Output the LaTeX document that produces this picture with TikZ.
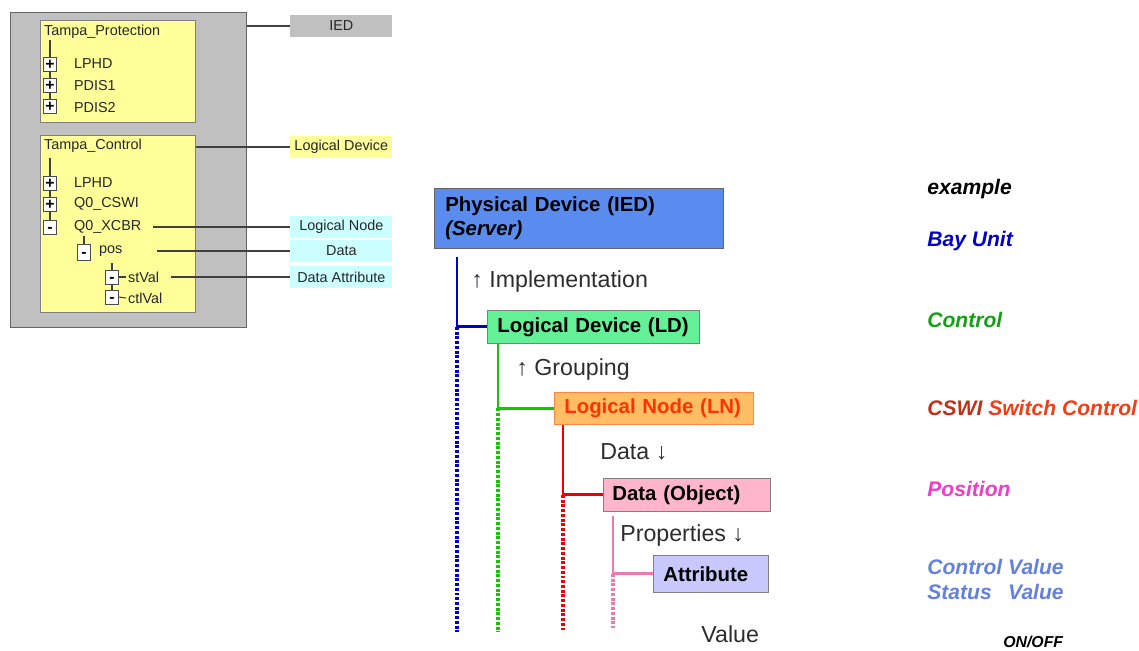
\documentclass[tikz,border=0pt]{standalone}
\usepackage{fontspec}
\setmainfont{Liberation Sans}
\usetikzlibrary{positioning, calc}
\definecolor{iedGray}{RGB}{192, 192, 192}
\definecolor{ldYellow}{RGB}{255, 255, 153}
\definecolor{lnCyan}{RGB}{204, 255, 255}
\definecolor{pdBlue}{RGB}{90, 140, 240}
\definecolor{ldGreen}{RGB}{100, 240, 150}
\definecolor{lnOrange}{RGB}{255, 190, 100}
\definecolor{lnRed}{RGB}{255, 50, 0}
\definecolor{doPink}{RGB}{255, 182, 204}
\definecolor{daLilac}{RGB}{200, 200, 252}
\definecolor{treeBlue}{RGB}{0, 0, 200}
\definecolor{treeGreen}{RGB}{20, 200, 0}
\definecolor{treeRed}{RGB}{240, 0, 0}
\definecolor{treePink}{RGB}{240, 120, 170}
\definecolor{bayBlue}{RGB}{0, 0, 200}
\definecolor{ctlGreen}{RGB}{20, 160, 20}
\definecolor{cswiRed}{RGB}{190, 50, 25}
\definecolor{swRed}{RGB}{245, 60, 20}
\definecolor{posPink}{RGB}{240, 60, 200}
\definecolor{valBlue}{RGB}{100, 130, 220}
\definecolor{noteGray}{RGB}{45, 45, 45}

\begin{document}
\begin{tikzpicture}[x=0.02cm, y=-0.02cm,
    iedbox/.style={rectangle, draw=black!60, fill=iedGray, anchor=north west, inner sep=0},
    ldbox/.style={rectangle, draw=black!50, fill=ldYellow, anchor=north west, inner sep=0},
    lt/.style={anchor=west, inner sep=1pt, font=\fontsize{8.2}{9}\selectfont, text=black!85},
    xbox/.style={rectangle, draw=black!70, fill=white, inner sep=0, minimum width=0.25cm, minimum height=0.28cm, text height=6pt, text depth=0pt, font=\fontsize{9}{9}\selectfont\bfseries},
    lbl/.style={rectangle, anchor=west, inner sep=0, minimum width=2.04cm, minimum height=0.44cm, font=\fontsize{8.2}{9}\selectfont, text=black!85},
    thin line/.style={draw=black!75, line width=0.6pt},
    level/.style={rectangle, anchor=north west, align=left, font=\fontsize{11.6}{14}\selectfont\bfseries},
    note/.style={anchor=west, inner sep=0, font=\fontsize{13.2}{15}\selectfont, text=noteGray},
    ex/.style={anchor=west, inner sep=0, font=\fontsize{12}{14}\selectfont\bfseries\itshape},
    tree/.style={line width=1.6pt},
    dots/.style={line width=1.8pt, dash pattern=on 1.7pt off 1pt}
  ]
    \useasboundingbox (0,0) rectangle (1139,650);

    % object tree
    \node[iedbox, minimum width=4.72cm, minimum height=6.3cm] (ied) at (10,12) {};
    \node[ldbox, minimum width=3.1cm, minimum height=2.04cm] (ldprot) at (40,20) {};
    \node[ldbox, minimum width=3.1cm, minimum height=3.54cm] (ldctl) at (40,135) {};

    \node[lt] (protname) at (42,32) {Tampa\_Protection};
    \coordinate (pTop) at (50,40);
    \node[xbox] (p1) at (50,64) {+};
    \node[xbox] (p2) at (50,85) {+};
    \node[xbox] (p3) at (50,106) {+};
    \node[lt] (plphd) at (72,64) {LPHD};
    \node[lt] (pdis1) at (72,86) {PDIS1};
    \node[lt] (pdis2) at (72,108) {PDIS2};
    \draw[thin line] (pTop) -- (p1) (p1) -- (p2) (p2) -- (p3);

    \node[lt] (ctlname) at (42,146) {Tampa\_Control};
    \coordinate (cTop) at (50,158);
    \node[xbox] (c1) at (50,183) {+};
    \node[xbox] (c2) at (50,204) {+};
    \node[xbox] (c3) at (50,227) {-};
    \node[lt] (clphd) at (72,183) {LPHD};
    \node[lt] (cswi) at (72,204) {Q0\_CSWI};
    \node[lt] (xcbr) at (72,227) {Q0\_XCBR};
    \draw[thin line] (cTop) -- (c1) (c1) -- (c2) (c2) -- (c3);

    \coordinate (xTop) at (84,236);
    \node[xbox, minimum height=0.32cm] (cpos) at (84,252) {-};
    \node[lt] (poslbl) at (97,251) {pos};
    \draw[thin line] (xTop) -- (cpos);

    \coordinate (posTop) at (112,263);
    \node[xbox] (cst) at (112,277) {-};
    \node[xbox] (cctl) at (112,297) {-};
    \node[lt] (stlbl) at (126,277) {stVal};
    \node[lt] (ctllbl) at (126,298) {ctlVal};
    \draw[thin line] (posTop) -- (cst) (cst) -- (cctl);
    \draw[thin line] (cst.east) -- (stlbl.west);
    \draw[thin line] (cctl.east) -- (ctllbl.west);

    \node[lbl, fill=iedGray] (iedlbl) at (290,26) {IED};
    \node[lbl, fill=ldYellow] (ldlbl) at (290,147) {Logical Device};
    \node[lbl, fill=lnCyan] (lnlbl) at (290,227) {Logical Node};
    \node[lbl, fill=lnCyan] (datalbl) at (290,251) {Data};
    \node[lbl, fill=lnCyan] (dalbl) at (290,277) {Data Attribute};

    \draw[thin line] (ied.east |- iedlbl.west) -- (iedlbl.west);
    \draw[thin line] (ldctl.east |- ldlbl.west) -- (ldlbl.west);
    \draw[thin line] ([xshift=0.2cm]xcbr.east) -- (lnlbl.west);
    \draw[thin line] ([xshift=0.66cm]poslbl.east) -- (datalbl.west);
    \draw[thin line] ([xshift=0.2cm]stlbl.east) -- (dalbl.west);

    % class hierarchy
    \node[level, draw=black!60, fill=pdBlue, minimum width=5.78cm, minimum height=1.2cm, inner xsep=0.22cm, text width=5.34cm] (pd) at (434,188) {\mbox{Physical Device (IED)}\\\mbox{\textit{(Server)}}};
    \node[level, draw=black!50, fill=ldGreen, minimum width=4.24cm, minimum height=0.66cm, inner xsep=0.2cm, text width=3.84cm] (ld) at (487,310) {\mbox{Logical Device (LD)}};
    \node[level, draw=lnOrange!70!red, fill=lnOrange, text=lnRed, minimum width=3.98cm, minimum height=0.64cm, inner xsep=0.2cm, text width=3.58cm] (ln) at (554,392) {\mbox{Logical Node (LN)}};
    \node[level, draw=black!50, fill=doPink, minimum width=3.34cm, minimum height=0.66cm, inner xsep=0.18cm, text width=2.98cm] (do) at (603,478) {\mbox{Data (Object)}};
    \node[level, draw=black!50, fill=daLilac, minimum width=2.3cm, minimum height=0.74cm, inner xsep=0.2cm, text width=1.9cm] (da) at (653,555) {\mbox{Attribute}};

    \node[note] (impl) at (471,281) {↑ Implementation};
    \node[note] (grp) at (516,369) {↑ Grouping};
    \node[note] (datanote) at (600,452) {Data ↓};
    \node[note] (propnote) at (620,535) {Properties ↓};
    \node[note] (valnote) at (701,634) {Value};

    \coordinate (pdEnd) at (457,632);
    \coordinate (ldEnd) at (498,632);
    \coordinate (lnEnd) at (563,630);
    \coordinate (doEnd) at (613,628);

    \draw[tree, treeBlue] ([xshift=0.46cm, yshift=-0.16cm]pd.south west) |- (ld.west);
    \draw[dots, treeBlue] (pdEnd |- ld.west) -- (pdEnd);
    \draw[tree, treeGreen] ([xshift=0.22cm]ld.south west) |- (ln.west);
    \draw[dots, treeGreen] (ldEnd |- ln.west) -- (ldEnd);
    \draw[tree, treeRed] ([xshift=0.18cm]ln.south west) |- (do.west);
    \draw[dots, treeRed] (lnEnd |- do.west) -- (lnEnd);
    \draw[tree, treePink] ([xshift=0.2cm, yshift=-0.08cm]do.south west) |- (da.west);
    \draw[dots, treePink] (doEnd |- da.west) -- (doEnd);

    % example column
    \node[ex] (exhead) at (927,189) {example};
    \node[ex, text=bayBlue] (bay) at (927,241) {Bay Unit};
    \node[ex, text=ctlGreen] (ctl) at (927,320) {Control};
    \node[ex] (sw) at (927,408) {\textcolor{cswiRed}{CSWI} \textcolor{swRed}{Switch Control}};
    \node[ex, text=posPink] (pos) at (927,489) {Position};
    \node[ex, text=valBlue] (vals) at (927,582) {\begin{tabular}{@{}l@{\hspace{0.28em}}l@{}}Control & Value\\Status & Value\end{tabular}};
    \node[ex, font=\fontsize{9}{10}\selectfont\bfseries\itshape] (onoff) at (1003,642) {ON/OFF};
\end{tikzpicture}
\end{document}
